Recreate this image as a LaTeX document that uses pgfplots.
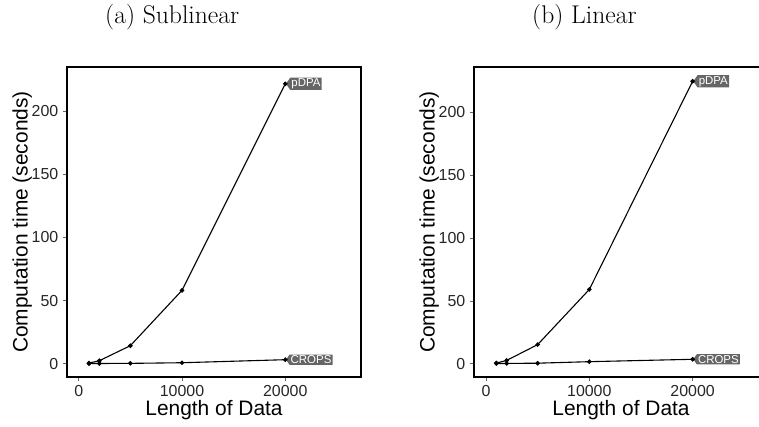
\documentclass[border=0pt]{standalone}
\usepackage{pgfplots}
\pgfplotsset{compat=1.18}
\usepackage{fontspec}
\newfontfamily\helv{Liberation Sans}
\usetikzlibrary{shapes.symbols}
\definecolor{lblgrey}{HTML}{666666}
\tikzset{lbl/.style={pos=1, shape=signal, signal to=west, signal pointer angle=110, fill=lblgrey, text=white, anchor=west, inner xsep=1.2bp, inner ysep=1bp, font=\helv\fontsize{11.5}{11.5}\selectfont},
  ser/.style={black, line width=1.1bp, mark=*, mark size=1.7bp, mark options={solid, fill=black}}}
\pgfplotsset{panel/.style={
  scale only axis, width=294bp, height=310bp,
  axis line style={line width=2.2bp, black},
  xtick={0,10000,20000}, ytick={0,50,100,150,200},
  tick align=outside, xtick pos=bottom, ytick pos=left,
  major tick length=4bp, tick style={black!60, line width=0.7bp},
  /pgf/number format/assume math mode=true,
  scaled x ticks=false,
  xticklabel style={/pgf/number format/1000 sep={}, anchor=north, inner sep=0pt, yshift=-4.5bp},
  yticklabel style={anchor=east, inner sep=0pt, xshift=-4.5bp},
  tick label style={font=\helv\fontsize{16}{16}\selectfont, text=black!85},
  xlabel={Length of Data}, ylabel={Computation time (seconds)},
  label style={font=\helv\fontsize{21}{21}\selectfont, inner sep=0pt},
  xlabel style={at={(axis description cs:0.5,-0.108)}, anchor=center},
  ylabel style={at={(axis description cs:-0.152,0.5)}, anchor=center},
  clip=false,
}}
\begin{document}
\begin{tikzpicture}[x=1bp,y=1bp]
\node[anchor=base west, inner sep=0pt, font=\fontsize{25.7}{26}\selectfont] at (105,402) {(a) Sublinear};
\node[anchor=base west, inner sep=0pt, font=\fontsize{25.7}{26}\selectfont] at (532,402) {(b) Linear};
\begin{axis}[panel, at={(67bp,49bp)}, anchor=south west,
  xmin=-1133, xmax=27330, ymin=-10.5, ymax=234.9]
\addplot[ser] coordinates {(1000,0.5) (2000,2.4) (5000,14.3) (10000,58.1) (20000,221.6)} node[lbl] {pDPA};
\addplot[ser] coordinates {(1000,0.1) (2000,0.2) (5000,0.3) (10000,0.8) (20000,3.2)} node[lbl] {CROPS};
\end{axis}
\begin{axis}[panel, at={(474bp,49bp)}, anchor=south west,
  xmin=-1162, xmax=27300, ymin=-10.6, ymax=236.2]
\addplot[ser] coordinates {(1000,0.5) (2000,2.6) (5000,15.2) (10000,59.1) (20000,224.8)} node[lbl] {pDPA};
\addplot[ser] coordinates {(1000,0.1) (2000,0.2) (5000,0.4) (10000,1.6) (20000,3.5)} node[lbl] {CROPS};
\end{axis}
\pgfresetboundingbox
\path[use as bounding box] (0,0) rectangle (759,426);
\end{tikzpicture}
\end{document}
